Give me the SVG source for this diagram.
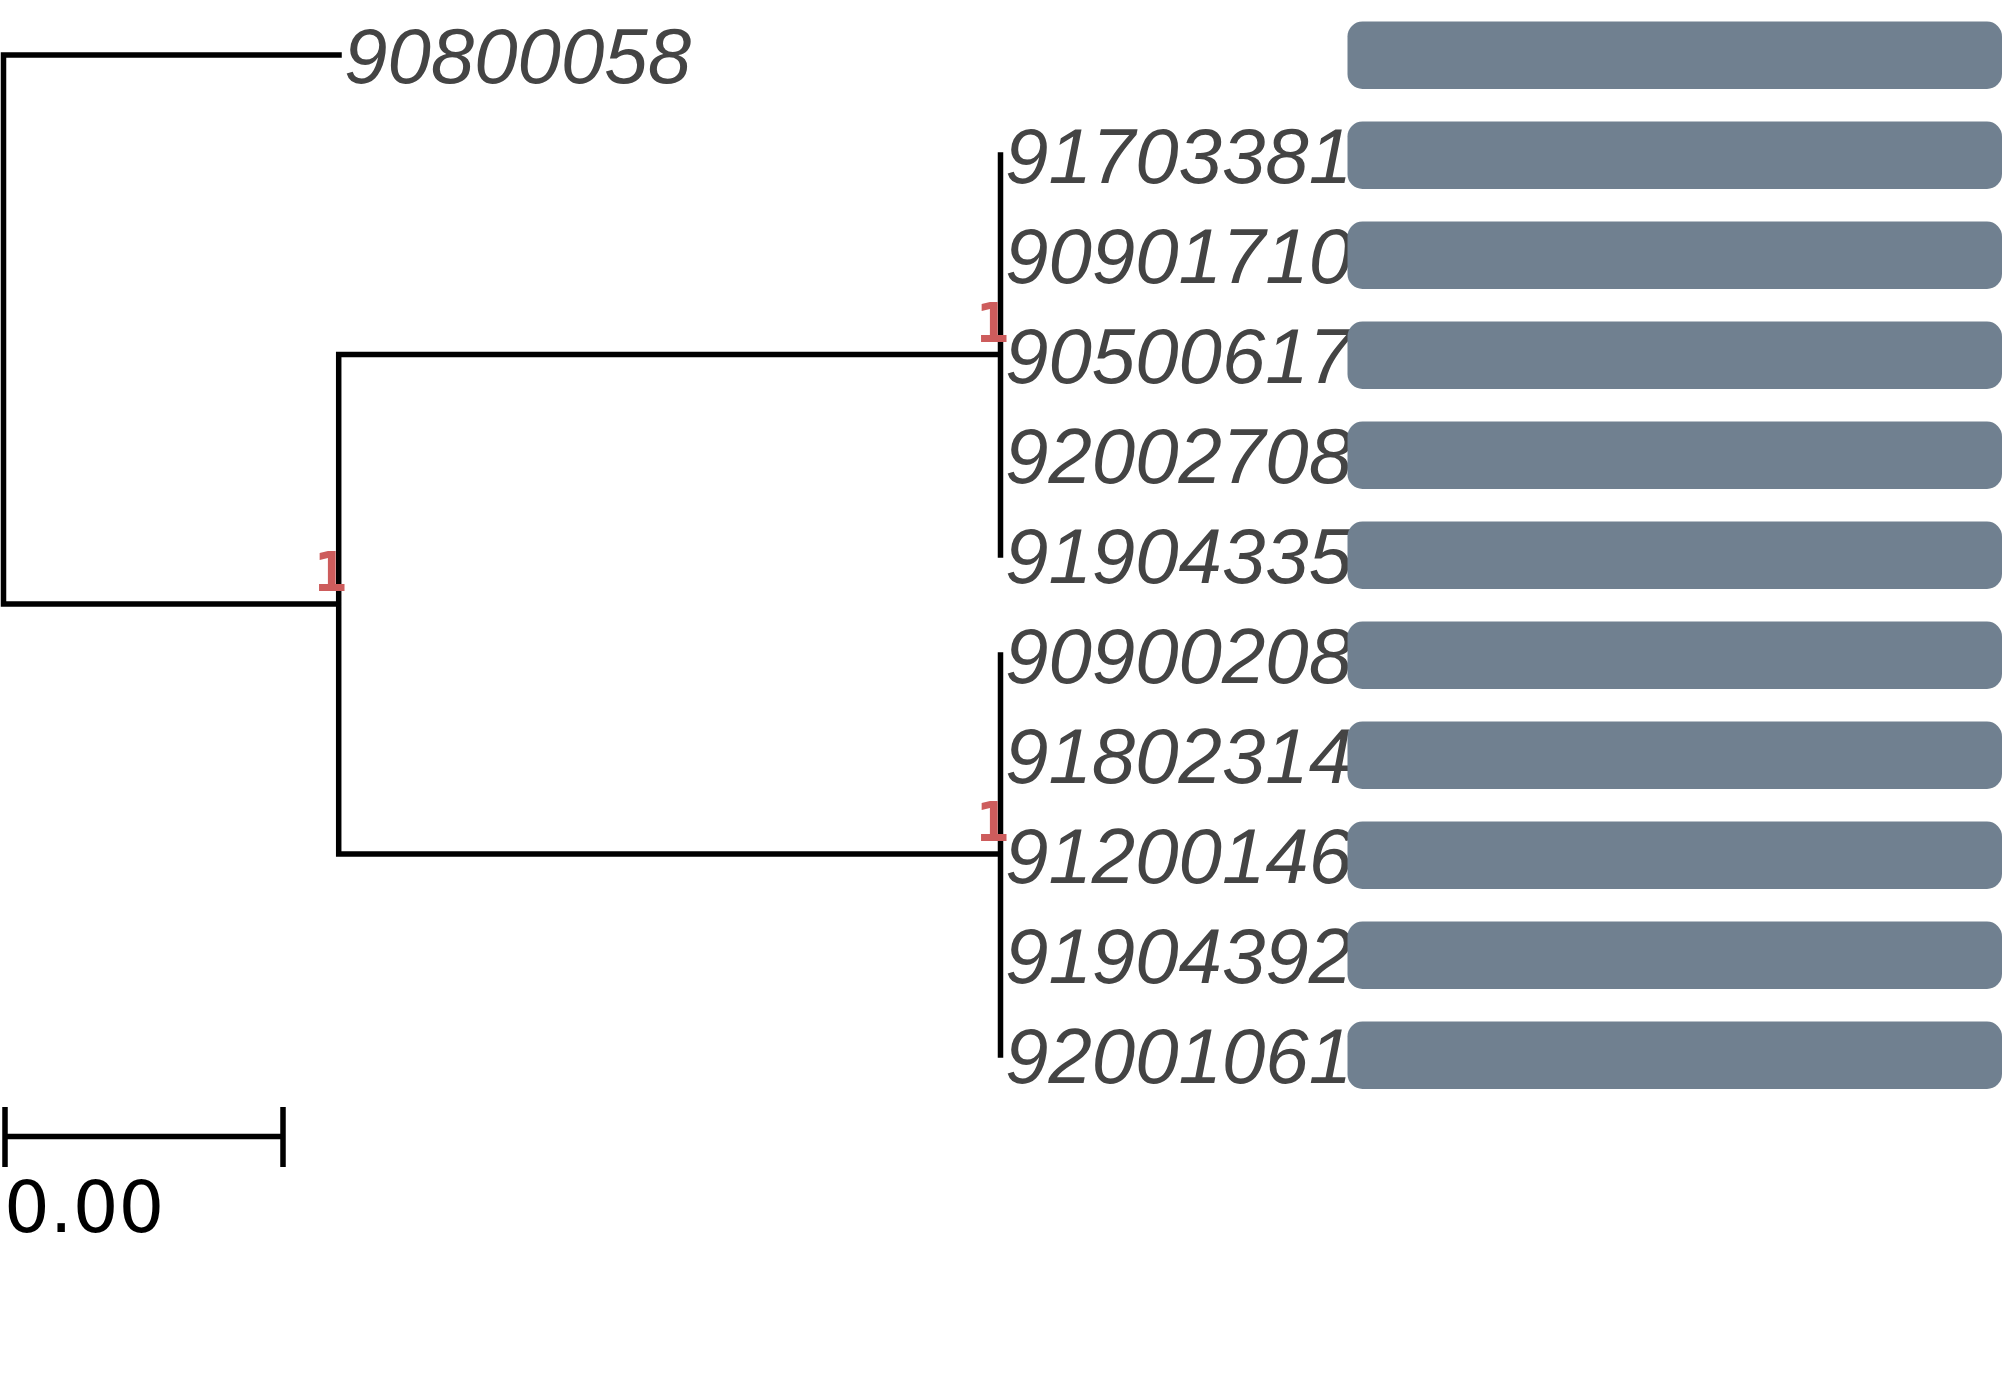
<svg xmlns="http://www.w3.org/2000/svg" width="2007" height="1386" viewBox="0 0 2007 1386">
<style>
.br{fill:none;stroke:#000;stroke-width:5.5;stroke-linecap:square}
.tip{font-family:"Liberation Sans",Arial,sans-serif;font-style:italic;font-size:78px;fill:#444444}
.sup{font-family:"DejaVu Sans Mono",monospace;font-weight:bold;font-size:55px;fill:#CD5C5C;text-anchor:end}
.bar{fill:#708090}
.scale{font-family:"DejaVu Sans",sans-serif;font-size:72px;fill:#000}
</style>
<rect width="2007" height="1386" fill="#fff"/>
<g id="connectors">
<path class="br" d="M3.5,55 H339 M3.5,55 V604 H338.7 M338.7,354.5 V854 M338.7,354.5 H1000.5 M338.7,854 H1000.5 M1000.5,155 V555 M1000.5,655 V1055"/>
</g>
<g id="support-labels">
<text class="sup" x="347" y="591">1</text>
<text class="sup" x="1009" y="342">1</text>
<text class="sup" x="1009" y="841">1</text>
</g>
<g id="tip-90800058"><text class="tip" x="344" y="83">90800058</text><rect class="bar" x="1347.5" y="21.5" width="654.5" height="67.5" rx="15"/></g>
<g id="tip-91703381"><text class="tip" x="1005" y="183">91703381</text><rect class="bar" x="1347.5" y="121.5" width="654.5" height="67.5" rx="15"/></g>
<g id="tip-90901710"><text class="tip" x="1005" y="283">90901710</text><rect class="bar" x="1347.5" y="221.5" width="654.5" height="67.5" rx="15"/></g>
<g id="tip-90500617"><text class="tip" x="1005" y="383">90500617</text><rect class="bar" x="1347.5" y="321.5" width="654.5" height="67.5" rx="15"/></g>
<g id="tip-92002708"><text class="tip" x="1005" y="483">92002708</text><rect class="bar" x="1347.5" y="421.5" width="654.5" height="67.5" rx="15"/></g>
<g id="tip-91904335"><text class="tip" x="1005" y="583">91904335</text><rect class="bar" x="1347.5" y="521.5" width="654.5" height="67.5" rx="15"/></g>
<g id="tip-90900208"><text class="tip" x="1005" y="683">90900208</text><rect class="bar" x="1347.5" y="621.5" width="654.5" height="67.5" rx="15"/></g>
<g id="tip-91802314"><text class="tip" x="1005" y="783">91802314</text><rect class="bar" x="1347.5" y="721.5" width="654.5" height="67.5" rx="15"/></g>
<g id="tip-91200146"><text class="tip" x="1005" y="883">91200146</text><rect class="bar" x="1347.5" y="821.5" width="654.5" height="67.5" rx="15"/></g>
<g id="tip-91904392"><text class="tip" x="1005" y="983">91904392</text><rect class="bar" x="1347.5" y="921.5" width="654.5" height="67.5" rx="15"/></g>
<g id="tip-92001061"><text class="tip" x="1005" y="1083">92001061</text><rect class="bar" x="1347.5" y="1021.5" width="654.5" height="67.5" rx="15"/></g>
<g id="scale-bar">
<path d="M5,1136.5 H283 M5,1107 V1167 M283,1107 V1167" fill="none" stroke="#000" stroke-width="5.5"/>
<text class="scale" x="4" y="1232">0.00</text>
</g>
</svg>
